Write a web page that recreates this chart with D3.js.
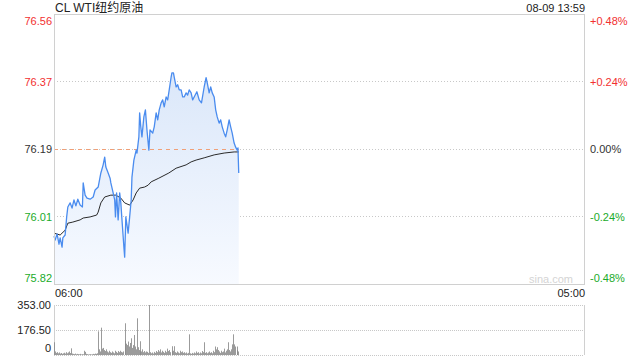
<!DOCTYPE html>
<html>
<head>
<meta charset="utf-8">
<script src="https://cdn.jsdelivr.net/npm/d3@7"></script>
<style>
  body { margin: 0; background: #fff; }
  text { font-family: "Liberation Sans", Arial, "Noto Sans CJK SC", sans-serif; }
</style>
</head>
<body>
<svg id="chart" width="640" height="360"></svg>
<script>
const title = 'CL WTI纽约原油',
    stamp = '08-09 13:59',
    prevClose = 76.19,
    pctTicks = [0.48, 0.24, 0, -0.24, -0.48],
    priceLabels = ['76.56', '76.37', '76.19', '76.01', '75.82'],
    pctLabels = ['+0.48%', '+0.24%', '0.00%', '-0.24%', '-0.48%'],
    timeLabels = ['06:00', '05:00'],
    volTicks = [353, 176.5, 0],
    volLabels = ['353.00', '176.50', '0'];

// minutes after 06:00
const priceMinutes = [0, 3, 8, 13, 16, 21, 23, 29, 33, 36, 42, 47, 52, 57, 62, 68, 74, 76, 81, 86, 94, 102, 107, 115,
    122, 128, 132, 135, 141, 146, 148, 154, 158, 160, 163, 167, 171, 174, 177, 182, 184, 187, 193, 197, 201, 203,
    208, 214, 216, 221, 223, 226, 229, 234, 238, 242, 247, 250, 257, 261, 266, 270, 274, 279, 283, 287, 292, 296,
    300, 305, 307, 311, 313, 318, 322, 326, 331, 335, 339, 344, 348, 352, 357, 361, 365, 372, 378, 384, 391, 396,
    399, 404, 408, 412, 417, 421, 425, 430, 434, 438, 443, 447, 451, 456, 460, 464, 469, 473, 477, 479, 481];
const prices = [75.954, 75.943, 75.960, 75.932, 75.949, 75.924, 75.949, 75.957, 76.006, 76.033, 76.044, 76.030,
    76.052, 76.036, 76.054, 76.038, 76.033, 76.098, 76.065, 76.057, 76.054, 76.060, 76.079, 76.087, 76.125, 76.147,
    76.168, 76.141, 76.125, 76.111, 76.098, 76.071, 76.052, 76.006, 76.071, 75.998, 76.071, 76.044, 75.998, 75.924,
    75.897, 76.006, 75.962, 76.006, 76.052, 76.114, 76.160, 76.187, 76.179, 76.223, 76.288, 76.250, 76.223, 76.277,
    76.296, 76.242, 76.187, 76.242, 76.233, 76.250, 76.288, 76.269, 76.296, 76.315, 76.323, 76.304, 76.331, 76.323,
    76.350, 76.385, 76.396, 76.396, 76.385, 76.358, 76.364, 76.350, 76.350, 76.331, 76.331, 76.342, 76.336, 76.350,
    76.342, 76.323, 76.331, 76.345, 76.323, 76.315, 76.358, 76.383, 76.369, 76.342, 76.358, 76.342, 76.331, 76.296,
    76.277, 76.260, 76.269, 76.250, 76.233, 76.223, 76.242, 76.269, 76.250, 76.233, 76.206, 76.195, 76.187, 76.193,
    76.125];

const avgMinutes = [0, 16, 29, 36, 49, 68, 76, 94, 111, 115, 122, 132, 148, 161, 174, 184, 197, 206, 214, 223, 236,
    245, 253, 273, 299, 318, 344, 357, 370, 391, 417, 443, 469, 481];
const avgPrices = [75.962, 75.957, 75.970, 75.989, 75.992, 75.998, 76.003, 76.006, 76.011, 76.019, 76.044, 76.060,
    76.065, 76.065, 76.057, 76.044, 76.038, 76.052, 76.071, 76.084, 76.087, 76.092, 76.101, 76.111, 76.125, 76.138,
    76.147, 76.155, 76.160, 76.166, 76.174, 76.179, 76.182, 76.182];

const volMinutes = [0, 3, 5, 8, 10, 13, 16, 18, 21, 23, 26, 29, 31, 34, 36, 39, 42, 43, 47, 49, 52, 55, 57, 60, 62,
    65, 68, 70, 73, 76, 78, 81, 83, 86, 89, 91, 94, 96, 99, 102, 104, 107, 109, 112, 115, 117, 120, 123, 125, 128,
    130, 133, 135, 138, 141, 143, 146, 148, 151, 154, 156, 159, 161, 164, 167, 169, 172, 174, 177, 180, 184, 185,
    187, 190, 193, 195, 198, 201, 203, 206, 208, 211, 214, 216, 219, 221, 223, 224, 227, 229, 232, 234, 237, 240,
    242, 245, 248, 250, 253, 255, 258, 260, 263, 266, 268, 271, 273, 276, 279, 281, 284, 286, 289, 292, 294, 297,
    299, 302, 306, 307, 310, 313, 315, 318, 320, 323, 326, 328, 331, 333, 336, 339, 341, 344, 346, 349, 352, 354,
    357, 359, 362, 365, 367, 370, 372, 375, 378, 380, 383, 385, 388, 391, 393, 396, 398, 401, 404, 406, 409, 411,
    414, 417, 419, 422, 424, 427, 430, 432, 435, 438, 440, 443, 445, 448, 451, 454, 456, 458, 461, 464, 466, 469,
    471, 476, 477, 479];
const volumes = [90, 25, 15, 20, 12, 18, 10, 14, 8, 12, 16, 10, 20, 12, 18, 25, 14, 47, 10, 8, 6, 10, 5, 8, 6,
    5, 8, 4, 6, 5, 30, 22, 8, 6, 4, 5, 6, 4, 5, 8, 6, 10, 8, 12, 167, 40, 25, 193, 45, 50,
    35, 28, 40, 25, 18, 30, 20, 15, 25, 18, 12, 30, 22, 15, 28, 20, 30, 22, 18, 25, 224, 100,
    80, 70, 95, 60, 85, 118, 50, 70, 141, 60, 40, 259, 55, 35, 97, 30, 25, 40, 20, 28, 18, 25,
    22, 15, 353, 20, 12, 18, 10, 22, 15, 28, 20, 35, 25, 40, 18, 30, 22, 15, 30, 20, 45, 28,
    35, 20, 62, 25, 30, 62, 20, 15, 25, 18, 12, 30, 20, 25, 15, 20, 12, 18, 10, 15, 146, 12,
    8, 15, 10, 18, 12, 25, 15, 20, 10, 18, 12, 28, 20, 90, 15, 20, 12, 18, 25, 15, 20, 12,
    30, 20, 60, 40, 55, 35, 25, 15, 30, 20, 25, 45, 18, 30, 40, 90, 35, 25, 40, 75, 146, 75,
    60, 60, 35, 25];

const padL = 54, padR = 584, padT = 14, padB = 284, volTop = 305, volBottom = 355;
const red = '#f23030', green = '#1aab2a', grey = '#333';

const svg = d3.select('#chart');

const x = d3.scaleLinear().domain([0, 1380]).range([padL, padR]);
const y = d3.scaleLinear()
    .domain([prevClose * (1 - 0.0048), prevClose * (1 + 0.0048)])
    .range([padB, padT]);
const yv = d3.scaleLinear().domain([0, 353]).range([volBottom, volTop]);

const pricePts = priceMinutes.map((m, i) => [m, prices[i]]);
const avgPts = avgMinutes.map((m, i) => [m, avgPrices[i]]);

// gradient for area
const defs = svg.append('defs');
const grad = defs.append('linearGradient').attr('id', 'areaGrad')
    .attr('gradientUnits', 'userSpaceOnUse')
    .attr('x1', 0).attr('y1', padT).attr('x2', 0).attr('y2', padB);
grad.append('stop').attr('offset', 0).attr('stop-color', '#d3e2f8');
grad.append('stop').attr('offset', 1).attr('stop-color', '#f7faff');

// grid
const gridPcts = pctTicks.slice(1, 4);
svg.append('g').selectAll('line').data(gridPcts).enter().append('line')
    .attr('x1', padL).attr('x2', padR)
    .attr('y1', (d) => Math.round(y(prevClose * (1 + d / 100))) + 0.5)
    .attr('y2', (d) => Math.round(y(prevClose * (1 + d / 100))) + 0.5)
    .attr('stroke', '#c8c8c8').attr('stroke-dasharray', '1,2');

// area + lines
svg.append('path')
    .datum(pricePts)
    .attr('fill', 'url(#areaGrad)')
    .attr('d', d3.area().x((d) => x(d[0])).y0(padB).y1((d) => y(d[1])));

svg.append('line')
    .attr('x1', padL).attr('x2', x(priceMinutes[priceMinutes.length - 1]))
    .attr('y1', Math.round(y(prevClose)) + 0.5).attr('y2', Math.round(y(prevClose)) + 0.5)
    .attr('stroke', '#f0a078').attr('stroke-dasharray', '4,4');

svg.append('path')
    .datum(avgPts)
    .attr('fill', 'none').attr('stroke', '#2a2a2a').attr('stroke-width', 1)
    .attr('d', d3.line().x((d) => x(d[0])).y((d) => y(d[1])));

svg.append('path')
    .datum(pricePts)
    .attr('fill', 'none').attr('stroke', '#4a8cef').attr('stroke-width', 1.3)
    .attr('stroke-linejoin', 'round')
    .attr('d', d3.line().x((d) => x(d[0])).y((d) => y(d[1])));

// frame
svg.append('rect')
    .attr('x', padL + 0.5).attr('y', padT + 0.5)
    .attr('width', padR - padL).attr('height', padB - padT)
    .attr('fill', 'none').attr('stroke', '#d0d0d0');

// y labels
const labelY = (i) => {
    const v = y(prevClose * (1 + pctTicks[i] / 100));
    if (i === 0) return v + 6.5;
    if (i === pctTicks.length - 1) return v - 6;
    return v;
};
const tickColor = (d) => (d > 0 ? red : d < 0 ? green : grey);

svg.append('g').selectAll('text').data(pctTicks).enter().append('text')
    .attr('x', padL - 2).attr('y', (d, i) => labelY(i))
    .attr('text-anchor', 'end').attr('dominant-baseline', 'central')
    .attr('font-size', 11).attr('fill', tickColor)
    .text((d, i) => priceLabels[i]);

svg.append('g').selectAll('text').data(pctTicks).enter().append('text')
    .attr('x', padR + 6).attr('y', (d, i) => labelY(i))
    .attr('dominant-baseline', 'central')
    .attr('font-size', 11).attr('fill', tickColor)
    .text((d, i) => pctLabels[i]);

// title + stamp
svg.append('text').attr('x', padL + 1).attr('y', 8)
    .attr('dominant-baseline', 'central').attr('font-size', 12).attr('fill', '#222')
    .text(title);
svg.append('text').attr('x', padR + 1).attr('y', 8)
    .attr('text-anchor', 'end').attr('dominant-baseline', 'central')
    .attr('font-size', 11).attr('fill', '#222')
    .text(stamp);

// watermark
svg.append('text').attr('x', padR - 11).attr('y', padB - 5)
    .attr('text-anchor', 'end').attr('dominant-baseline', 'central')
    .attr('font-size', 11).attr('fill', '#d4d4d4')
    .text('sina.com');

// time labels
svg.append('text').attr('x', x(0) + 1).attr('y', padB + 9)
    .attr('dominant-baseline', 'central').attr('font-size', 11).attr('fill', '#222')
    .text(timeLabels[0]);
svg.append('text').attr('x', x(1380) + 1).attr('y', padB + 9)
    .attr('text-anchor', 'end').attr('dominant-baseline', 'central')
    .attr('font-size', 11).attr('fill', '#222')
    .text(timeLabels[1]);

// volume panel
svg.append('g').selectAll('line').data(volTicks).enter().append('line')
    .attr('x1', padL).attr('x2', padR)
    .attr('y1', (d) => Math.round(yv(d)) + 0.5).attr('y2', (d) => Math.round(yv(d)) + 0.5)
    .attr('stroke', '#c8c8c8').attr('stroke-dasharray', '1,1');
[padL, padR].forEach((xx) => {
    svg.append('line').attr('x1', xx + 0.5).attr('x2', xx + 0.5)
        .attr('y1', volTop).attr('y2', volBottom)
        .attr('stroke', '#d0d0d0');
});

svg.append('g').selectAll('rect').data(volMinutes).enter().append('rect')
    .attr('x', (d) => Math.round(x(d)))
    .attr('width', 1)
    .attr('y', (d, i) => yv(volumes[i]))
    .attr('height', (d, i) => volBottom - yv(volumes[i]))
    .attr('fill', '#8a8a8a').attr('opacity', 0.85);

svg.append('g').selectAll('text').data(volTicks).enter().append('text')
    .attr('x', padL - 3)
    .attr('y', (d, i) => (i === volTicks.length - 1 ? yv(d) - 7 : yv(d)))
    .attr('text-anchor', 'end').attr('dominant-baseline', 'central')
    .attr('font-size', 11).attr('fill', '#222')
    .text((d, i) => volLabels[i]);
</script>
</body>
</html>
